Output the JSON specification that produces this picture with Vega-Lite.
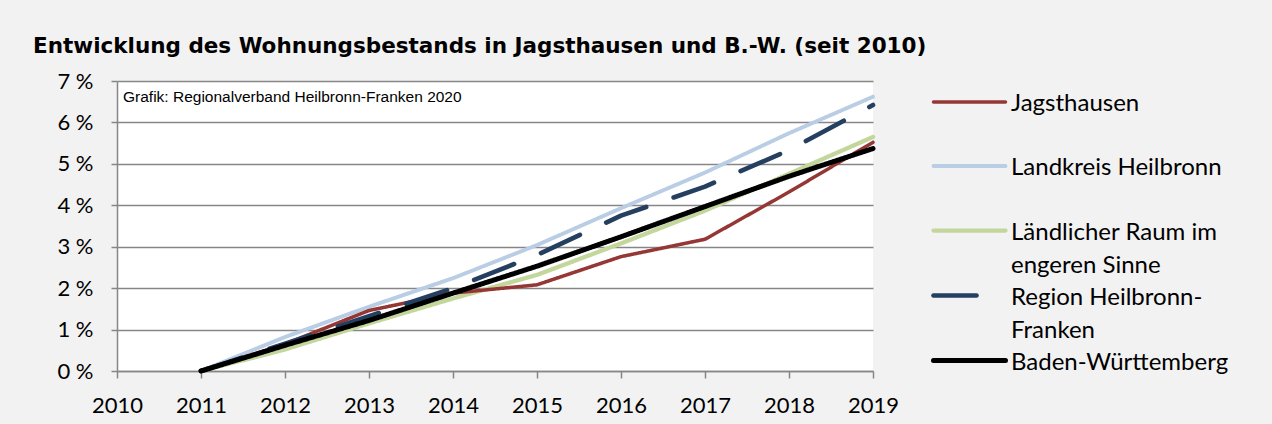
{
  "$schema": "https://vega.github.io/schema/vega-lite/v6.json",
  "width": 756,
  "height": 290,
  "autosize": {"type": "none"},
  "padding": {"left": 117, "top": 81, "right": 399, "bottom": 53},
  "background": "#f2f2f2",
  "title": {
    "text": "Entwicklung des Wohnungsbestands in Jagsthausen und B.-W. (seit 2010)",
    "anchor": "start",
    "frame": "group",
    "dx": -84,
    "offset": -4,
    "baseline": "alphabetic",
    "font": "DejaVu Sans",
    "fontSize": 21.5,
    "fontWeight": "bold",
    "color": "#000000"
  },
  "config": {
    "view": {"fill": "#ffffff", "stroke": null},
    "font": "Lato"
  },
  "layer": [
    {
      "data": {"values": [{"year": 2010, "pct": 7, "note": "Grafik: Regionalverband Heilbronn-Franken 2020"}]},
      "mark": {"type": "text", "align": "left", "baseline": "top", "dx": 6, "dy": 9, "font": "Liberation Sans", "fontSize": 15.5, "color": "#000000"},
      "encoding": {
        "x": {"field": "year", "type": "quantitative"},
        "y": {"field": "pct", "type": "quantitative"},
        "text": {"field": "note"}
      }
    },
    {
      "data": {"values": [
        {"series": "Landkreis Heilbronn", "year": 2011, "pct": 0},
        {"series": "Landkreis Heilbronn", "year": 2012, "pct": 0.82},
        {"series": "Landkreis Heilbronn", "year": 2013, "pct": 1.55},
        {"series": "Landkreis Heilbronn", "year": 2014, "pct": 2.24},
        {"series": "Landkreis Heilbronn", "year": 2015, "pct": 3.04},
        {"series": "Landkreis Heilbronn", "year": 2016, "pct": 3.93},
        {"series": "Landkreis Heilbronn", "year": 2017, "pct": 4.79},
        {"series": "Landkreis Heilbronn", "year": 2018, "pct": 5.74},
        {"series": "Landkreis Heilbronn", "year": 2019, "pct": 6.62},
        {"series": "Ländlicher Raum im engeren Sinne", "year": 2011, "pct": 0},
        {"series": "Ländlicher Raum im engeren Sinne", "year": 2012, "pct": 0.52},
        {"series": "Ländlicher Raum im engeren Sinne", "year": 2013, "pct": 1.15},
        {"series": "Ländlicher Raum im engeren Sinne", "year": 2014, "pct": 1.75},
        {"series": "Ländlicher Raum im engeren Sinne", "year": 2015, "pct": 2.32},
        {"series": "Ländlicher Raum im engeren Sinne", "year": 2016, "pct": 3.08},
        {"series": "Ländlicher Raum im engeren Sinne", "year": 2017, "pct": 3.87},
        {"series": "Ländlicher Raum im engeren Sinne", "year": 2018, "pct": 4.76},
        {"series": "Ländlicher Raum im engeren Sinne", "year": 2019, "pct": 5.65},
        {"series": "Jagsthausen", "year": 2011, "pct": 0},
        {"series": "Jagsthausen", "year": 2012, "pct": 0.65},
        {"series": "Jagsthausen", "year": 2013, "pct": 1.46},
        {"series": "Jagsthausen", "year": 2014, "pct": 1.88},
        {"series": "Jagsthausen", "year": 2015, "pct": 2.08},
        {"series": "Jagsthausen", "year": 2016, "pct": 2.76},
        {"series": "Jagsthausen", "year": 2017, "pct": 3.18},
        {"series": "Jagsthausen", "year": 2018, "pct": 4.32},
        {"series": "Jagsthausen", "year": 2019, "pct": 5.52},
        {"series": "Region Heilbronn-Franken", "year": 2011, "pct": 0},
        {"series": "Region Heilbronn-Franken", "year": 2012, "pct": 0.66},
        {"series": "Region Heilbronn-Franken", "year": 2013, "pct": 1.32},
        {"series": "Region Heilbronn-Franken", "year": 2014, "pct": 2.0},
        {"series": "Region Heilbronn-Franken", "year": 2015, "pct": 2.8},
        {"series": "Region Heilbronn-Franken", "year": 2016, "pct": 3.75},
        {"series": "Region Heilbronn-Franken", "year": 2017, "pct": 4.45},
        {"series": "Region Heilbronn-Franken", "year": 2018, "pct": 5.33},
        {"series": "Region Heilbronn-Franken", "year": 2019, "pct": 6.42},
        {"series": "Baden-Württemberg", "year": 2011, "pct": 0},
        {"series": "Baden-Württemberg", "year": 2012, "pct": 0.62},
        {"series": "Baden-Württemberg", "year": 2013, "pct": 1.22},
        {"series": "Baden-Württemberg", "year": 2014, "pct": 1.88},
        {"series": "Baden-Württemberg", "year": 2015, "pct": 2.53},
        {"series": "Baden-Württemberg", "year": 2016, "pct": 3.24},
        {"series": "Baden-Württemberg", "year": 2017, "pct": 3.97},
        {"series": "Baden-Württemberg", "year": 2018, "pct": 4.7},
        {"series": "Baden-Württemberg", "year": 2019, "pct": 5.37}
      ]},
      "mark": {"type": "line", "strokeCap": "round", "strokeJoin": "round"},
      "encoding": {
        "x": {
          "field": "year", "type": "quantitative",
          "scale": {"domain": [2010, 2019], "nice": false, "zero": false},
          "axis": {
            "values": [2010, 2011, 2012, 2013, 2014, 2015, 2016, 2017, 2018, 2019],
            "format": "d", "title": null, "grid": false,
            "domainColor": "#868686", "domainWidth": 1.5,
            "tickColor": "#868686", "tickWidth": 1.5, "tickSize": 7,
            "labelFont": "Lato", "labelFontSize": 22, "labelColor": "#000000",
            "labelPadding": 17, "labelFlush": false, "labelOverlap": false
          }
        },
        "y": {
          "field": "pct", "type": "quantitative",
          "scale": {"domain": [0, 7], "nice": false},
          "axis": {
            "values": [0, 1, 2, 3, 4, 5, 6, 7],
            "labelExpr": "datum.value + ' %'", "title": null, "grid": true,
            "gridColor": "#868686", "gridWidth": 1.5,
            "domainColor": "#868686", "domainWidth": 1.5,
            "tickColor": "#868686", "tickWidth": 1.5, "tickSize": 6,
            "labelFont": "Lato", "labelFontSize": 22, "labelColor": "#000000",
            "labelPadding": 18, "labelBaseline": "middle"
          }
        },
        "color": {
          "field": "series", "type": "nominal",
          "scale": {
            "domain": ["Jagsthausen", "Landkreis Heilbronn", "Ländlicher Raum im engeren Sinne", "Region Heilbronn-Franken", "Baden-Württemberg"],
            "range": ["#953735", "#b9cde5", "#c3d69b", "#243f60", "#000000"]
          },
          "legend": {
            "orient": "none", "legendX": 838, "legendY": 7,
            "title": null, "padding": 0,
            "symbolType": "M-3,0H3", "symbolSize": 576, "symbolStrokeWidth": 5,
            "labelFont": "Lato", "labelFontSize": 24, "labelColor": "#000000",
            "labelOffset": 27, "labelLimit": 400, "rowPadding": 3,
            "labelBaseline": "top",
            "labelExpr": "datum.label == 'Ländlicher Raum im engeren Sinne' ? ['Ländlicher Raum im', 'engeren Sinne'] : datum.label == 'Region Heilbronn-Franken' ? ['Region Heilbronn-', 'Franken'] : [datum.label, '']",
            "encode": {
              "labels": {"update": {"dy": {"value": -10}, "lineHeight": {"value": 33}}},
              "symbols": {"update": {
                "strokeCap": {"value": "round"},
                "fill": {"value": "transparent"},
                "strokeWidth": {"signal": "datum.value == 'Jagsthausen' ? 4 : 5"}
              }}
            }
          }
        },
        "strokeWidth": {
          "field": "series", "type": "nominal",
          "scale": {
            "domain": ["Jagsthausen", "Landkreis Heilbronn", "Ländlicher Raum im engeren Sinne", "Region Heilbronn-Franken", "Baden-Württemberg"],
            "range": [3.5, 5, 5, 5, 4.5]
          },
          "legend": null
        },
        "strokeDash": {
          "field": "series", "type": "nominal",
          "scale": {
            "domain": ["Jagsthausen", "Landkreis Heilbronn", "Ländlicher Raum im engeren Sinne", "Region Heilbronn-Franken", "Baden-Württemberg"],
            "range": [[1, 0], [1, 0], [1, 0], [43, 29], [1, 0]]
          },
          "legend": null
        }
      }
    }
  ]
}
